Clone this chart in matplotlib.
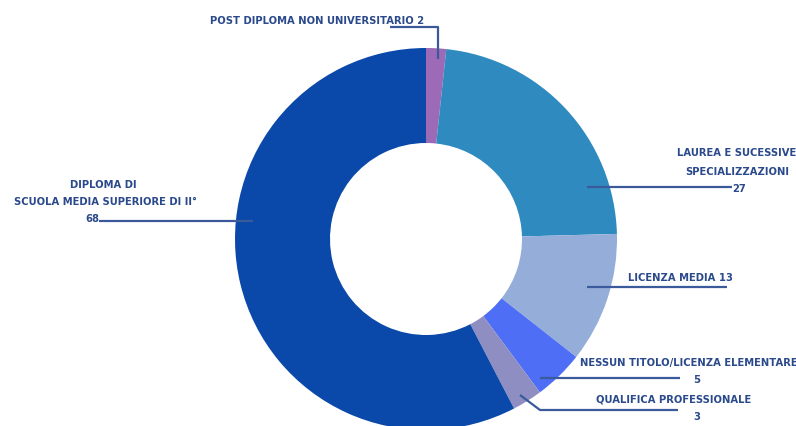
"""Donut chart: titolo di studio (reference recreation)."""

import matplotlib.pyplot as plt

# data, clockwise from the top
categories = [
    "POST DIPLOMA NON UNIVERSITARIO",
    "LAUREA E SUCESSIVE SPECIALIZZAZIONI",
    "LICENZA MEDIA",
    "NESSUN TITOLO/LICENZA ELEMENTARE",
    "QUALIFICA PROFESSIONALE",
    "DIPLOMA DI SCUOLA MEDIA SUPERIORE DI II°",
]
counts = [2, 27, 13, 5, 3, 68]
colors = ["#9c6ab6", "#2f8bbf", "#95aed9", "#4d6ef5", "#8f8ec2", "#0a49aa"]

W, H = 796, 427
TEXT = "#2b4a8c"
LINE = "#3a5a9c"


def Y(y):
    # pixel row from the top -> data y
    return H - y


fig = plt.figure(figsize=(W / 100, H / 100), dpi=100)
ax = fig.add_axes([0, 0, 1, 1])

ax.pie(counts, colors=colors, startangle=90, counterclock=False,
       center=(426, Y(240)), radius=191,
       wedgeprops=dict(width=95, linewidth=0))
ax.set_xlim(0, W)
ax.set_ylim(0, H)
ax.set_aspect("equal")
ax.axis("off")

font = dict(family="DejaVu Sans", fontweight="bold", fontsize=7.2,
            color=TEXT, va="center")


def leader(xs, ys):
    ax.plot(xs, [Y(v) for v in ys], color=LINE, lw=1.6,
            solid_capstyle="butt", clip_on=False)


# post diploma
ax.text(317, Y(21), f"{categories[0]} {counts[0]}", ha="center", **font)
leader([390, 438, 438], [28, 28, 60])

# laurea
ax.text(737, Y(153), "LAUREA E SUCESSIVE", ha="center", **font)
ax.text(737, Y(172), "SPECIALIZZAZIONI", ha="center", **font)
ax.text(739, Y(189), str(counts[1]), ha="center", **font)
leader([587, 732], [188, 188])

# licenza media
ax.text(680, Y(278), f"{categories[2]} {counts[2]}", ha="center", **font)
leader([587, 727], [288, 288])

# nessun titolo
ax.text(580, Y(363), categories[3], ha="left", **font)
ax.text(697, Y(380), str(counts[3]), ha="center", **font)
leader([540, 680], [379, 379])

# qualifica
ax.text(674, Y(400), categories[4], ha="center", **font)
ax.text(697, Y(417), str(counts[4]), ha="center", **font)
leader([520, 540, 678], [396, 411, 411])

# diploma
ax.text(103, Y(185), "DIPLOMA DI", ha="center", **font)
ax.text(105, Y(202), "SCUOLA MEDIA SUPERIORE DI II°", ha="center", **font)
ax.text(92, Y(219), str(counts[5]), ha="center", **font)
leader([99, 253], [222, 222])

fig.savefig("out.png", dpi=100, facecolor="white")
